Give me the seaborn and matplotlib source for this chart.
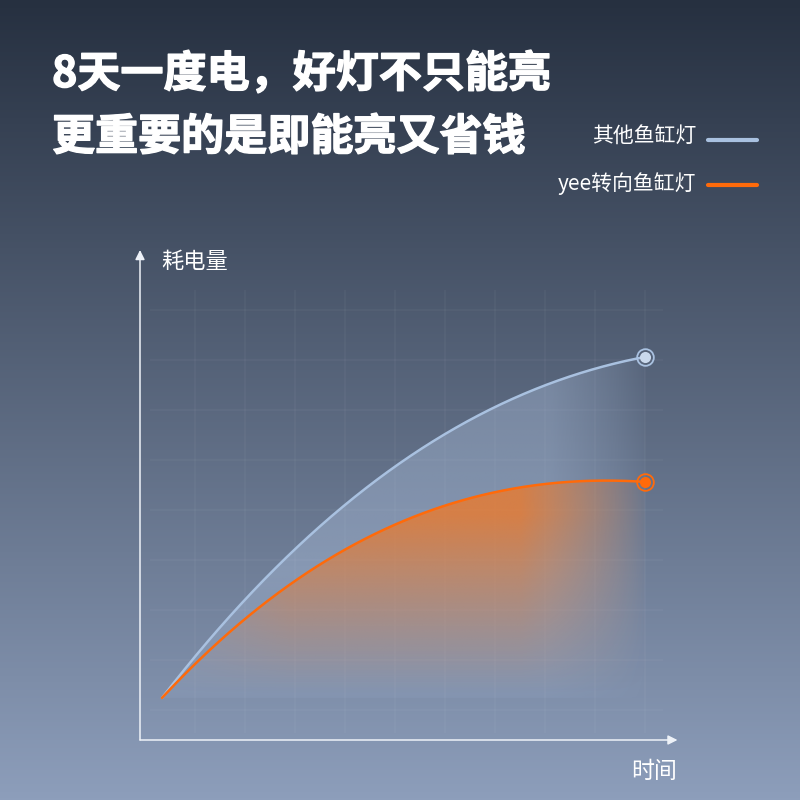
import numpy as np
import pandas as pd
import matplotlib
matplotlib.use("Agg")
import matplotlib.pyplot as plt
import matplotlib.patheffects as pe
import seaborn as sns
from matplotlib.patches import Polygon

# ---------------- data ----------------
title_lines = ["8天一度电，好灯不只能亮", "更重要的是即能亮又省钱"]
series_names = ["其他鱼缸灯", "yee转向鱼缸灯"]
x_label = "时间"
y_label = "耗电量"
time = [0.44, 1.4, 2.4, 3.4, 4.4, 5.4, 6.4, 7.4, 8.4, 9.4, 10.1]
other_power = [0.84, 2.16, 3.18, 4.0, 4.9, 5.66, 6.32, 6.8, 7.24, 7.52, 7.66]
yee_power = [0.84, 1.9, 2.74, 3.36, 3.9, 4.4, 4.74, 5.04, 5.22, 5.24, 5.16]
grid_x = [1.1, 2.1, 3.1, 4.1, 5.1, 6.1, 7.1, 8.1, 9.1, 10.1]
grid_y = [0.6, 1.6, 2.6, 3.6, 4.6, 5.6, 6.6, 7.6, 8.6]

BLUE = "#a9c1e0"
ORANGE = "#ff6a0a"

sns.set_theme(style="white")
plt.rcParams["font.family"] = ["Noto Sans CJK SC", "DejaVu Sans"]


def smooth(xs, ys, deg=3, n=300):
    """Weighted least-squares smoothing of the read-off points for drawing."""
    xs = np.asarray(xs, float)
    ys = np.asarray(ys, float)
    w = np.ones_like(xs)
    w[0] = w[-1] = 6.0
    c = np.polyfit(xs, ys, deg, w=w)
    xd = np.linspace(xs[0], xs[-1], n)
    yd = np.polyval(c, xd)
    return np.column_stack([xd, yd])


fig = plt.figure(figsize=(8, 8), dpi=100)

# background gradient
bg = fig.add_axes([0, 0, 1, 1], zorder=-10)
top = np.array([38, 48, 64]) / 255
bot = np.array([141, 158, 187]) / 255
g = np.linspace(0, 1, 400)[:, None]
grad = top[None, :] * (1 - g) + bot[None, :] * g
bg.imshow(np.repeat(grad[:, None, :], 4, axis=1), aspect="auto", extent=[0, 1, 0, 1])
bg.set_axis_off()

# main axes
ax = fig.add_axes([140 / 800, 1 - 740 / 800, 540 / 800, 490 / 800])
ax.set_facecolor("none")
XMAX, YMAX = 10.8, 9.8

# grid
ax.vlines(grid_x, 0.15, 9.0, color="white", alpha=0.04, lw=1.2, zorder=1)
ax.hlines(grid_y, 0.2, 10.45, color="white", alpha=0.04, lw=1.2, zorder=1)

curve_o = smooth(time, other_power)
curve_y = smooth(time, yee_power)

# gradient fills
nx, ny = 300, 300
xx, yy = np.meshgrid(np.linspace(0, XMAX, nx), np.linspace(0, YMAX, ny))


def grad_fill(curve, color, alpha_arr, z):
    rgba = np.zeros((ny, nx, 4))
    rgba[..., :3] = matplotlib.colors.to_rgb(color)
    rgba[..., 3] = np.clip(alpha_arr, 0, 1)
    im = ax.imshow(rgba, extent=[0, XMAX, 0, YMAX], origin="lower",
                   aspect="auto", zorder=z, interpolation="bilinear")
    poly_pts = np.vstack([curve, [[curve[-1, 0], curve[0, 1]]]])
    patch = Polygon(poly_pts, closed=True, transform=ax.transData,
                    facecolor="none", edgecolor="none")
    ax.add_patch(patch)
    im.set_clip_path(patch)


right_o = np.clip((10.2 - xx) / 2.0, 0, 1) ** 0.8
a_blue = 0.36 * right_o * np.clip((yy - 0.4) / 3.0, 0, 1) ** 0.7
grad_fill(curve_o, "#b4c8e6", a_blue, 2)

right_y = np.clip((10.2 - xx) / 2.6, 0, 1)
left_y = np.clip((xx - 0.5) / 2.5, 0, 1) ** 0.6
a_or = 0.78 * right_y * left_y * np.clip((yy - 0.9) / 3.6, 0, 1) ** 1.1
grad_fill(curve_y, "#ee7a2a", a_or, 3)

# curves
df = pd.concat([
    pd.DataFrame({"time": curve_o[:, 0], "power": curve_o[:, 1], "lamp": series_names[0]}),
    pd.DataFrame({"time": curve_y[:, 0], "power": curve_y[:, 1], "lamp": series_names[1]}),
])
sns.lineplot(data=df, x="time", y="power", hue="lamp", sort=False,
             palette={series_names[0]: BLUE, series_names[1]: ORANGE},
             lw=1.8, legend=False, ax=ax, zorder=5)

# end markers
for crv, col, inner in [(curve_o, BLUE, "#c9d8ec"), (curve_y, ORANGE, ORANGE)]:
    ax.plot(crv[-1, 0], crv[-1, 1], "o", ms=12, mfc="none", mec=col, mew=1.3, zorder=6)
    ax.plot(crv[-1, 0], crv[-1, 1], "o", ms=8, mfc=inner, mec="none", zorder=6)

# axes arrows
arrow_kw = dict(arrowstyle="-|>", color="#eef2f8", lw=1.1, mutation_scale=14,
                shrinkA=0, shrinkB=0)
ax.annotate("", xy=(0, YMAX), xytext=(0, 0), arrowprops=arrow_kw, annotation_clip=False)
ax.annotate("", xy=(10.75, 0), xytext=(0, 0), arrowprops=arrow_kw, annotation_clip=False)

ax.set_xlim(0, XMAX)
ax.set_ylim(0, YMAX)
ax.set_xticks([])
ax.set_yticks([])
ax.set_xlabel("")
ax.set_ylabel("")
for s in ax.spines.values():
    s.set_visible(False)


def fx(px):
    return px / 800


def fy(py):
    return 1 - py / 800


heavy = [pe.withStroke(linewidth=1.0, foreground="white")]
# titles
fig.text(fx(52), fy(74), title_lines[0], fontsize=31, fontweight="black",
         color="white", ha="left", va="center", path_effects=heavy)
fig.text(fx(52), fy(137), title_lines[1], fontsize=31, fontweight="black",
         color="white", ha="left", va="center", path_effects=heavy)

# legend
fig.text(fx(696), fy(137), series_names[0], fontsize=15, fontweight="medium",
         color="white", ha="right", va="center")
fig.text(fx(696), fy(184), series_names[1], fontsize=15, fontweight="medium",
         color="white", ha="right", va="center")
fig.add_artist(plt.Line2D([fx(708), fx(757)], [fy(140), fy(140)], color=BLUE,
                          lw=3, transform=fig.transFigure))
fig.add_artist(plt.Line2D([fx(708), fx(757)], [fy(185), fy(185)], color=ORANGE,
                          lw=3, transform=fig.transFigure))

# axis labels
fig.text(fx(161), fy(262), y_label, fontsize=16, fontweight="medium", color="white",
         ha="left", va="center")
fig.text(fx(677), fy(771), x_label, fontsize=16.5, fontweight="medium", color="white",
         ha="right", va="center")

fig.savefig("out.png", dpi=100)
